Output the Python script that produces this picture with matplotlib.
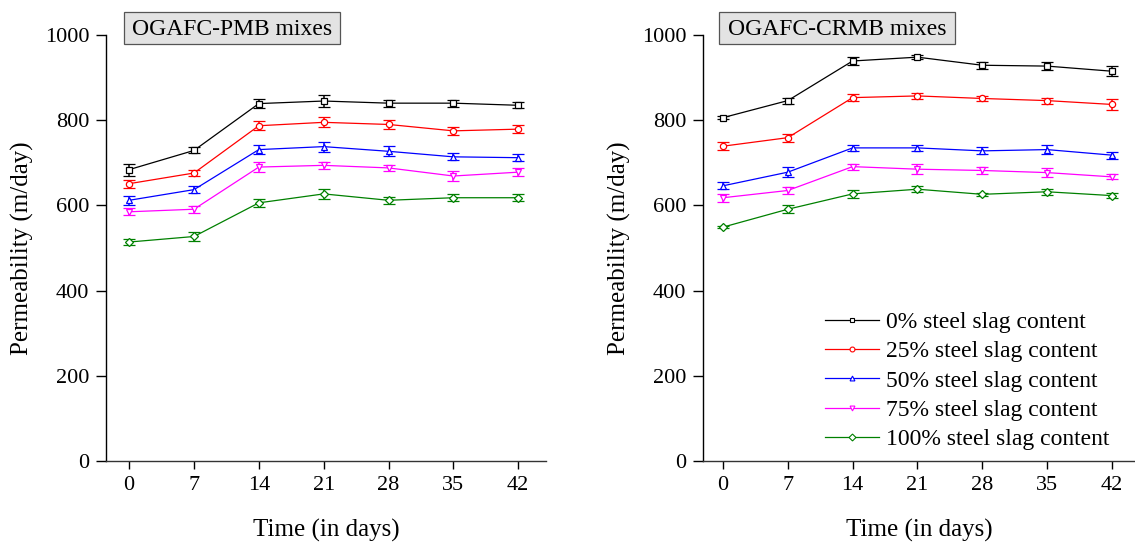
import matplotlib
matplotlib.use("Agg")
import matplotlib.pyplot as plt
from matplotlib.patches import Rectangle
from matplotlib.lines import Line2D

plt.rcParams['font.family'] = ['Liberation Serif', 'DejaVu Serif']

# Curing time (days)
days = [0, 7, 14, 21, 28, 35, 42]
day_ticks = [0, 7, 14, 21, 28, 35, 42]
perm_ticks = [0, 200, 400, 600, 800, 1000]

series_labels = ["0% steel slag content", "25% steel slag content",
                 "50% steel slag content", "75% steel slag content",
                 "100% steel slag content"]

# OGAFC-PMB mixes: mean permeability (m/day) and error
pmb_0 = [684, 729, 839, 845, 840, 840, 835]
pmb_25 = [651, 676, 787, 795, 790, 775, 779]
pmb_50 = [612, 637, 731, 738, 727, 714, 712]
pmb_75 = [585, 591, 690, 694, 688, 669, 678]
pmb_100 = [514, 527, 606, 627, 612, 618, 618]
pmb_err_0 = [14, 7, 11, 15, 8, 8, 7]
pmb_err_25 = [9, 7, 11, 12, 10, 9, 10]
pmb_err_50 = [10, 8, 10, 12, 12, 8, 8]
pmb_err_75 = [8, 8, 12, 8, 8, 12, 10]
pmb_err_100 = [8, 10, 10, 12, 8, 8, 8]

# OGAFC-CRMB mixes: mean permeability (m/day) and error
crmb_0 = [806, 846, 939, 948, 929, 927, 915]
crmb_25 = [739, 759, 853, 857, 851, 846, 837]
crmb_50 = [646, 678, 735, 735, 728, 731, 718]
crmb_75 = [618, 635, 691, 685, 682, 677, 667]
crmb_100 = [549, 591, 627, 638, 626, 632, 623]
crmb_err_0 = [4, 7, 9, 4, 8, 10, 12]
crmb_err_25 = [9, 9, 9, 7, 6, 7, 12]
crmb_err_50 = [8, 12, 7, 7, 8, 10, 8]
crmb_err_75 = [9, 9, 7, 12, 8, 10, 6]
crmb_err_100 = [2, 9, 9, 7, 3, 7, 5]

colors = ["#000000", "#ff0000", "#0000ff", "#ff00ff", "#008000"]
markers = ["s", "o", "^", "v", "D"]

W, H = 1135, 546
fig = plt.figure(figsize=(W / 100, H / 100), dpi=100)


def px_rect(x0, y0, x1, y1):
    """Figure-fraction rectangle from pixel edges (y measured from top)."""
    return [x0 / W, 1 - y1 / H, (x1 - x0) / W, (y1 - y0) / H]


ax1 = fig.add_axes(px_rect(106, 35, 546, 461))
ax2 = fig.add_axes(px_rect(703, 35, 1135, 461))

panels = [
    (ax1, [pmb_0, pmb_25, pmb_50, pmb_75, pmb_100],
     [pmb_err_0, pmb_err_25, pmb_err_50, pmb_err_75, pmb_err_100], (-2.5, 45.0)),
    (ax2, [crmb_0, crmb_25, crmb_50, crmb_75, crmb_100],
     [crmb_err_0, crmb_err_25, crmb_err_50, crmb_err_75, crmb_err_100], (-2.16, 44.5)),
]

for ax, vals, errs, xl in panels:
    for v, e, c, m in zip(vals, errs, colors, markers):
        ax.errorbar(days, v, yerr=e, color=c, lw=0.9, marker=m, ms=4.5,
                    mfc="white", mec=c, mew=0.9, capsize=4.5, capthick=1.3,
                    elinewidth=1.1)
    ax.set_xlim(*xl)
    ax.set_ylim(0, 1000)
    ax.set_xticks(day_ticks)
    ax.set_yticks(perm_ticks)
    ax.spines['top'].set_visible(False)
    ax.spines['right'].set_visible(False)
    ax.spines['left'].set_linewidth(1.0)
    ax.spines['bottom'].set_linewidth(1.0)
    ax.spines['bottom'].set_color('#333333')
    ax.tick_params(axis='y', direction='out', length=7, width=1.0, pad=5,
                   labelsize=16)
    ax.tick_params(axis='x', direction='out', length=6, width=1.0, pad=5,
                   labelsize=16)
    ax.set_xlabel("Time (in days)", fontsize=18, labelpad=17)
    ax.set_ylabel("Permeability (m/day)", fontsize=18, labelpad=8)
    ax.set_facecolor('none')

# Panel title boxes
for (x0, y0, x1, y1), txt in [((124, 12.3, 340, 44.3), "OGAFC-PMB mixes"),
                              ((719, 12.3, 955, 44.3), "OGAFC-CRMB mixes")]:
    r = px_rect(x0, y0, x1, y1)
    fig.patches.append(Rectangle((r[0], r[1]), r[2], r[3],
                                 transform=fig.transFigure, facecolor="#e3e3e3",
                                 edgecolor="#555555", lw=0.9))
    fig.text((x0 + x1) / 2 / W, 1 - ((y0 + y1) / 2 + 1) / H, txt,
             ha="center", va="center", fontsize=17)

# Legend in the CRMB panel
handles = [Line2D([], [], color=c, lw=0.9, marker=m, ms=3.5, mfc="white",
                  mec=c, mew=0.8) for c, m in zip(colors, markers)]
ax2.legend(handles, series_labels, loc="upper left",
           bbox_to_anchor=(825 / W, 1 - 311.5 / H),
           bbox_transform=fig.transFigure, frameon=False, fontsize=17,
           handlelength=2.3, handletextpad=0.3, labelspacing=0.33,
           borderpad=0, borderaxespad=0)

fig.savefig("out.png", dpi=100, facecolor="white")
